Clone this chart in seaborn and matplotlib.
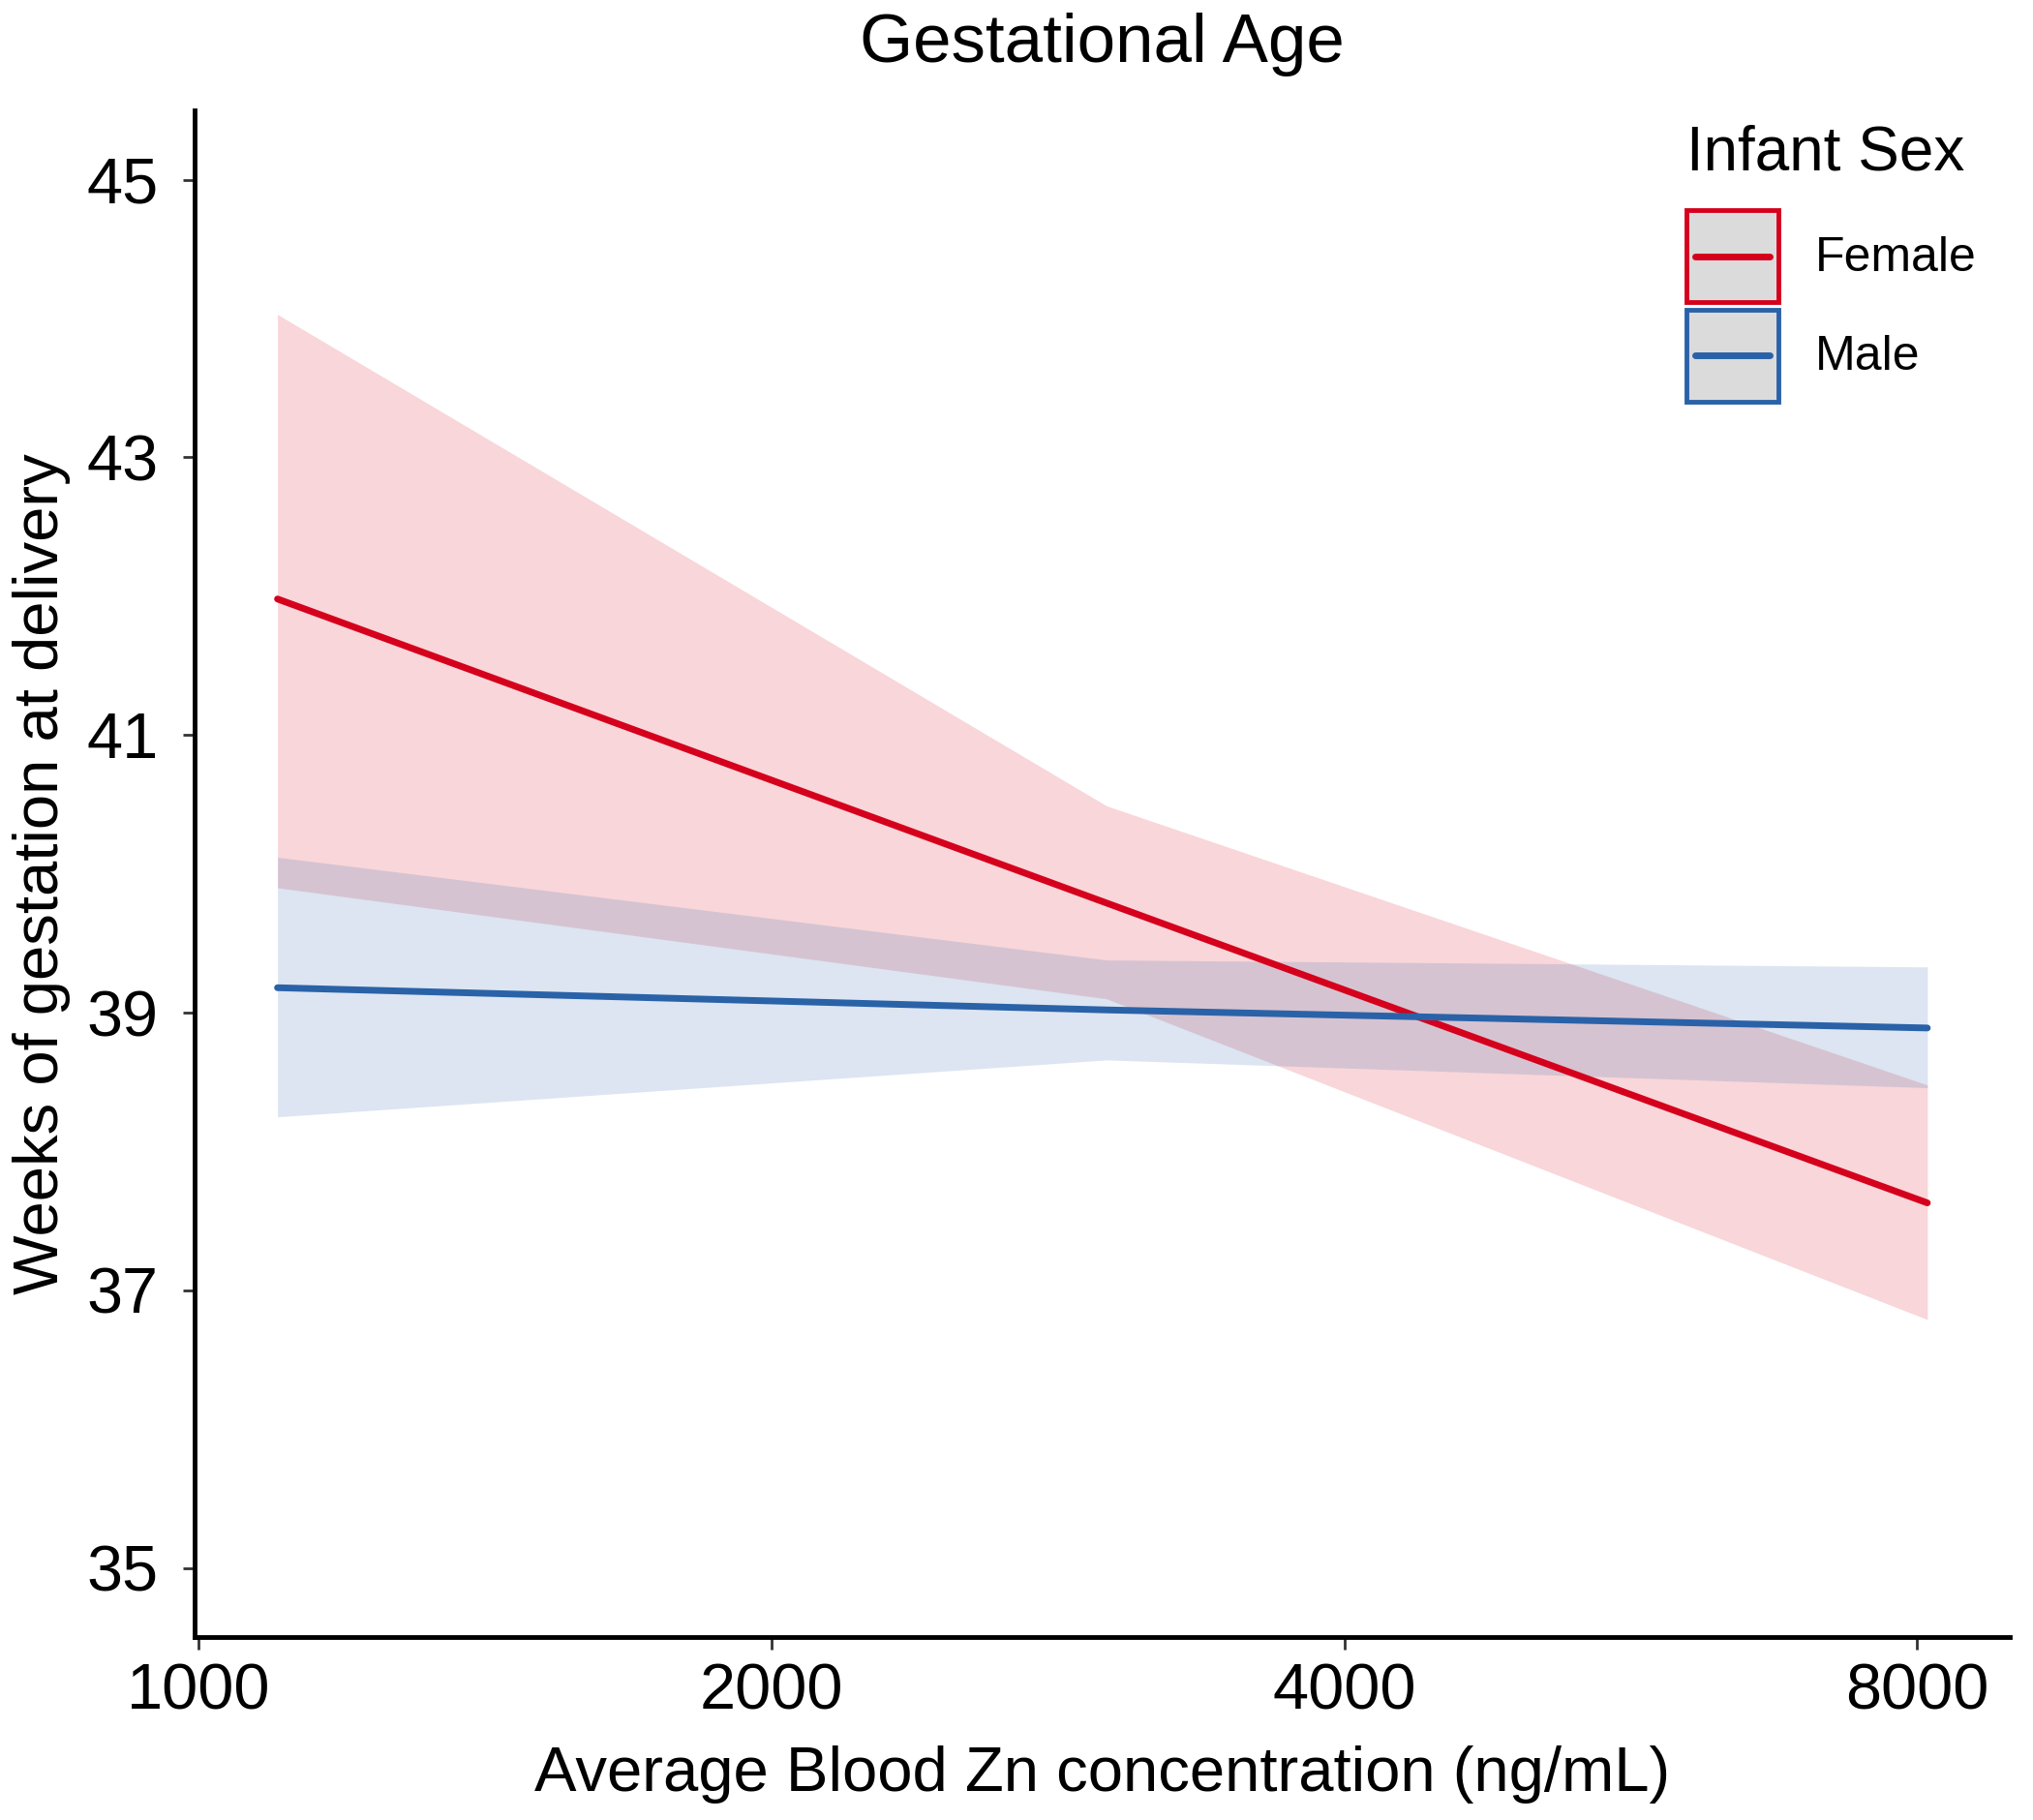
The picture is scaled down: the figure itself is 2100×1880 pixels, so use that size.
import numpy as np
import pandas as pd
import matplotlib
matplotlib.use("Agg")
import matplotlib.pyplot as plt
from matplotlib.patches import Rectangle
from matplotlib.lines import Line2D
from matplotlib.ticker import NullLocator
import seaborn as sns

# -------------------------
# DATA
# -------------------------
zn = [1100, 3000, 8100]              # ng/mL, points where the fit/CI was evaluated
female_fit = [41.98, 39.79, 37.63]
female_lo = [39.90, 39.10, 36.79]
female_hi = [44.03, 40.49, 38.48]
male_fit = [39.18, 39.02, 38.89]
male_lo = [38.25, 38.66, 38.46]
male_hi = [40.12, 39.38, 39.33]

sexes = ["Female", "Male"]
x_ticks = [1000, 2000, 4000, 8000]
y_ticks = [35, 37, 39, 41, 43, 45]

COLORS = {"Female": "#D5001C", "Male": "#2A62A8"}
KEY_GRAY = "#DBDBDB"

df = pd.DataFrame({
    "zn": zn * 2,
    "sex": ["Female"] * len(zn) + ["Male"] * len(zn),
    "fit": female_fit + male_fit,
    "lower": female_lo + male_lo,
    "upper": female_hi + male_hi,
})


# -------------------------
# Legend key: grey box with coloured border and a centred line
# -------------------------
class KeyHandler:
    def legend_artist(self, legend, orig_handle, fontsize, handlebox):
        x0, y0 = -handlebox.xdescent, -handlebox.ydescent
        w, h = handlebox.width, handlebox.height
        c = orig_handle.get_color()
        tr = handlebox.get_transform()
        rect = Rectangle((x0, y0), w, h, facecolor=KEY_GRAY, edgecolor=c,
                         lw=3.5, transform=tr)
        line = Line2D([x0 + 0.09 * w, x0 + 0.91 * w], [y0 + h / 2] * 2,
                      color=c, lw=5, transform=tr)
        handlebox.add_artist(rect)
        handlebox.add_artist(line)
        return rect


# -------------------------
# Style
# -------------------------
sns.set_style("ticks")
plt.rcParams["font.family"] = ["Liberation Sans", "DejaVu Sans"]
plt.rcParams["text.color"] = "black"
plt.rcParams["axes.labelcolor"] = "black"

fig = plt.figure(figsize=(21, 18.8), dpi=100)
ax = fig.add_axes([0.0957, 0.1003, 0.8929, 0.8391])
ax.set_xscale("log")

# lines first, ribbons on top (as in the original)
sns.lineplot(data=df, x="zn", y="fit", hue="sex", hue_order=sexes,
             palette=COLORS, lw=5, legend=False, errorbar=None, ax=ax)

for s in sexes:
    sub = df[df["sex"] == s]
    ax.fill_between(sub["zn"], sub["lower"], sub["upper"],
                    color=COLORS[s], alpha=0.16, lw=0)

ax.set_xlim(995, 8950)
ax.set_ylim(34.5, 45.5)
ax.set_xticks(x_ticks)
ax.set_xticklabels([str(t) for t in x_ticks])
ax.xaxis.set_minor_locator(NullLocator())
ax.set_yticks(y_ticks)

sns.despine(ax=ax)
for sp in ["left", "bottom"]:
    ax.spines[sp].set_linewidth(3.5)
    ax.spines[sp].set_color("black")
ax.tick_params(axis="both", length=9, width=2, color="#333333",
               labelsize=48, labelcolor="black")
ax.tick_params(axis="x", pad=10)
ax.tick_params(axis="y", pad=18)

ax.set_xlabel("Average Blood Zn concentration (ng/mL)", fontsize=47, labelpad=17)
ax.set_ylabel("Weeks of gestation at delivery", fontsize=47, labelpad=12)
ax.set_title("Gestational Age", fontsize=51, pad=36)

fig.text(1742 / 2100, 1 - 175 / 1880, "Infant Sex", fontsize=46,
         ha="left", va="baseline")
handles = [Line2D([], [], color=COLORS[s]) for s in sexes]
leg = fig.legend(handles, sexes, handler_map={Line2D: KeyHandler()},
                 loc="upper left", bbox_to_anchor=(1742 / 2100, 1 - 217 / 1880),
                 frameon=False, fontsize=36,
                 handlelength=1.9, handleheight=2.55, labelspacing=0.15,
                 handletextpad=0.76, borderpad=0, borderaxespad=0)

plt.savefig("out.png", dpi=100)
plt.close()
